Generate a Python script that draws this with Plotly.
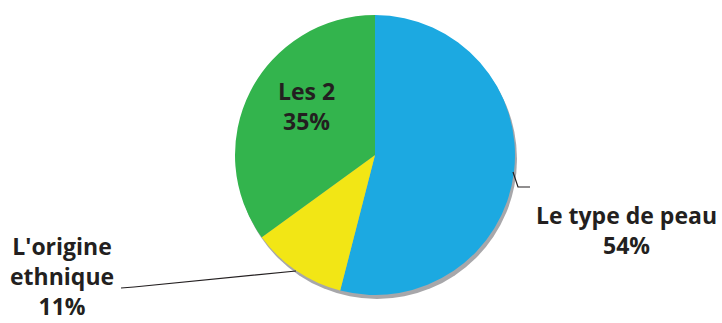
import plotly.graph_objects as go

labels = ["Le type de peau", "L'origine ethnique", "Les 2"]
values = [54, 11, 35]
colors = ["#1CA9E1", "#F2E615", "#33B44D"]
label_lines = [["Le type de peau"], ["L'origine", "ethnique"], ["Les 2"]]

W, H = 722, 323
def px(x):
    return x / W
def py(y):
    return 1 - y / H

fig = go.Figure()
# soft shadow under the pie
fig.add_trace(go.Pie(
    values=[sum(values)], labels=["shadow"], sort=False,
    marker=dict(colors=["#A7A7AA"], line=dict(width=0)),
    textinfo="none", hoverinfo="skip", showlegend=False,
    domain=dict(x=[px(237), px(517)], y=[py(299), py(19)]),
))
fig.add_trace(go.Pie(
    labels=labels, values=values, sort=False, direction="clockwise", rotation=0,
    marker=dict(colors=colors, line=dict(width=0)),
    textinfo="none", hoverinfo="label+percent", showlegend=False,
    domain=dict(x=[px(235), px(515)], y=[py(295), py(15)]),
))

# leader lines
fig.add_shape(type="path", xref="paper", yref="paper",
              path=f"M {px(121)},{py(288)} L {px(134)},{py(287)} L {px(296)},{py(271)}",
              line=dict(color="#231F20", width=1.2))
fig.add_shape(type="path", xref="paper", yref="paper",
              path=f"M {px(513)},{py(172)} L {px(518)},{py(187)} L {px(530)},{py(187)}",
              line=dict(color="#231F20", width=1.2))

font = dict(family="Open Sans", size=23, color="#231F20")
positions = [(626, 230), (62, 276), (306, 106)]
for lines, v, (x, y) in zip(label_lines, values, positions):
    txt = "<br>".join(f"<b>{l}</b>" for l in lines) + f"<br><b>{v}%</b>"
    fig.add_annotation(text=txt, x=px(x), y=py(y), xref="paper", yref="paper",
                       showarrow=False, font=font, align="center",
                       xanchor="center", yanchor="middle")

fig.update_layout(width=W, height=H, margin=dict(l=0, r=0, t=0, b=0),
                  paper_bgcolor="white", plot_bgcolor="white")
fig.write_html("out.html", config={"displayModeBar": False},
               post_script="document.body.style.margin='0';")
